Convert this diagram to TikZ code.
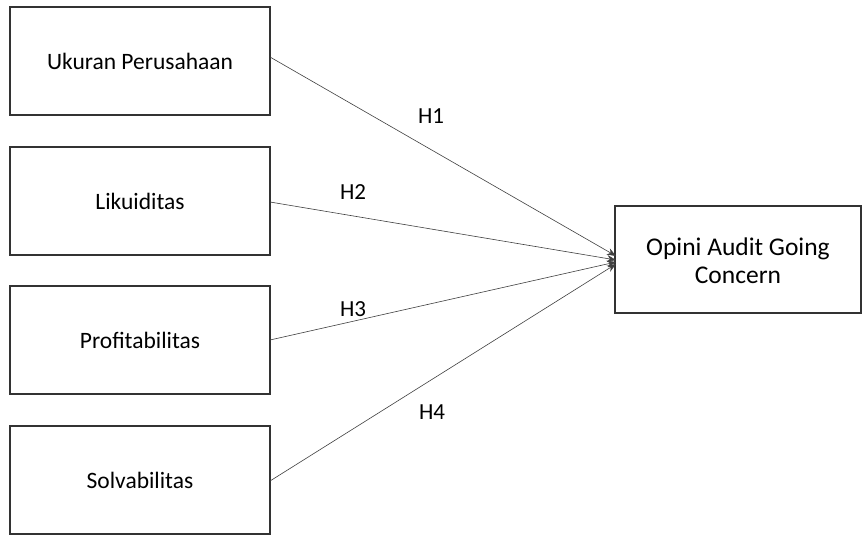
\documentclass[tikz,border=0pt]{standalone}
\usepackage{fontspec}
\setmainfont{Carlito}
\usetikzlibrary{arrows.meta}
\begin{document}
\begin{tikzpicture}[x=1pt,y=-1pt,
  varbox/.style={draw=black!80,line width=1.2pt,fill=white},
  lbl/.style={font=\fontsize{23.5}{28}\selectfont,align=center},
  conn/.style={draw=black!75,line width=0.6pt,-{Stealth[length=9pt,width=7pt]}},
  hlab/.style={font=\fontsize{23}{28}\selectfont}]
\useasboundingbox (0,0) rectangle (863,536);
\fill[white] (0,0) rectangle (863,536);
\draw[varbox] (10,7) rectangle (270,115);
\draw[varbox] (10,147) rectangle (270,255);
\draw[varbox] (10,286) rectangle (270,394);
\draw[varbox] (10,426) rectangle (270,534);
\draw[varbox] (615,206) rectangle (861,313);
\node[lbl] (a) at (140,61) {Ukuran Perusahaan};
\node[lbl] (b) at (140,201) {Likuiditas};
\node[lbl] (c) at (140,340) {Profitabilitas};
\node[lbl] (d) at (140,480) {Solvabilitas};
\node[lbl,font=\fontsize{25.5}{28}\selectfont] (y) at (738,261) {Opini Audit Going\\Concern};
\coordinate (a1) at (270,57);
\coordinate (b1) at (270,202);
\coordinate (c1) at (270,340);
\coordinate (d1) at (270,481);
\coordinate (t1) at (616,256);
\coordinate (t2) at (616,260);
\coordinate (t3) at (616,262);
\coordinate (t4) at (616,264);
\draw[conn] (a1) -- (t1);
\draw[conn] (b1) -- (t2);
\draw[conn] (c1) -- (t3);
\draw[conn] (d1) -- (t4);
\node[hlab] (h1) at (431,116) {H1};
\node[hlab] (h2) at (353,192) {H2};
\node[hlab] (h3) at (353,309) {H3};
\node[hlab] (h4) at (432,412) {H4};
\end{tikzpicture}
\end{document}
